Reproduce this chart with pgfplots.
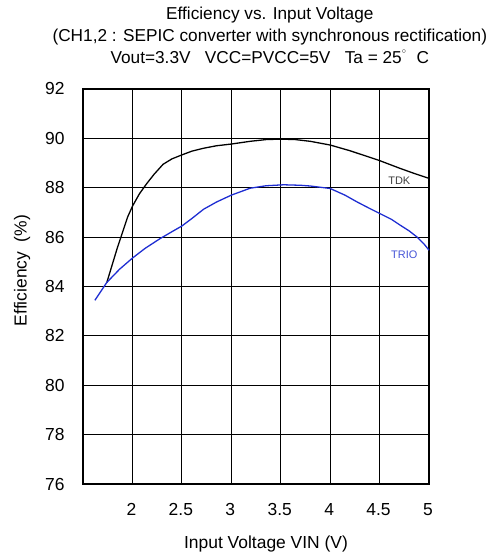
\documentclass[border=0pt]{standalone}
\usepackage{fontspec}
\setmainfont{Liberation Sans}
\usepackage{pgfplots}
\pgfplotsset{compat=1.18}
\definecolor{trioblue}{RGB}{30,45,210}
\definecolor{triotext}{RGB}{70,85,215}

\begin{document}
\begin{tikzpicture}[x=1bp,y=1bp]
\useasboundingbox (-83,-68) rectangle (405,484);
\begin{axis}[
    at={(0,0)}, anchor=south west,
    scale only axis,
    width=346bp, height=395bp,
    xmin=1.5, xmax=5,
    ymin=76, ymax=92,
    xtick={2,2.5,...,5},
    ytick={76,78,...,92},
    grid=major,
    major grid style={black, line width=1.1pt},
    axis line style={black, line width=1.6pt},
    tick style={draw=none},
    tick label style={font=\fontsize{17.5}{19}\selectfont},
    /pgf/number format/assume math mode=true,
    xticklabel style={yshift=-16bp, xshift=-1bp},
    yticklabel style={xshift=-15bp},
    xlabel={Input Voltage VIN (V)},
    ylabel={Efficiency\ \ (\%)},
    label style={font=\fontsize{17.5}{19}\selectfont},
    xlabel style={yshift=-13bp, xshift=10bp},
    ylabel style={yshift=8bp, xshift=16bp},
    clip=false,
]

\addplot[black, line width=1.3pt] coordinates {
    (1.74,84.15) (1.85,85.6) (1.95,86.8) (2.0,87.25) (2.07,87.75)
    (2.145,88.17) (2.22,88.55) (2.31,88.95) (2.4,89.17) (2.5,89.33)
    (2.6,89.48) (2.72,89.6) (2.85,89.7) (3.0,89.77) (3.19,89.88)
    (3.35,89.95) (3.5,89.97) (3.65,89.95) (3.8,89.88) (4.0,89.73)
    (4.2,89.5) (4.35,89.3) (4.5,89.1) (4.71,88.78) (4.85,88.58) (5.0,88.38)
};

\addplot[trioblue, line width=1.3pt] coordinates {
    (1.62,83.44) (1.74,84.16) (1.87,84.7) (2.0,85.15) (2.13,85.55)
    (2.28,85.94) (2.4,86.22) (2.5,86.45) (2.6,86.75) (2.72,87.13)
    (2.85,87.42) (3.0,87.7) (3.19,87.98) (3.35,88.08) (3.53,88.12)
    (3.7,88.1) (3.8,88.07) (4.0,87.97) (4.15,87.7) (4.27,87.43)
    (4.4,87.16) (4.5,86.96) (4.62,86.72) (4.71,86.48) (4.8,86.25)
    (4.88,86.0) (4.95,85.72) (5.0,85.47)
};

\node[font=\fontsize{11}{12}\selectfont, text=black!75] at (axis cs:4.70,88.28) {TDK};
\node[font=\fontsize{11}{12}\selectfont, text=triotext] at (axis cs:4.75,85.27) {TRIO};

\node[align=center, font=\fontsize{17.3}{22}\selectfont, anchor=north]
    at (rel axis cs:0.54,1) [yshift=85bp] {Efficiency vs. Input Voltage\\
    (CH1,2 : SEPIC converter with synchronous rectification)\\
    Vout=3.3V\ \ \ VCC=PVCC=5V\ \ \ Ta = 25\textsuperscript{$^\circ$}\ \ C};
\end{axis}
\end{tikzpicture}
\end{document}
